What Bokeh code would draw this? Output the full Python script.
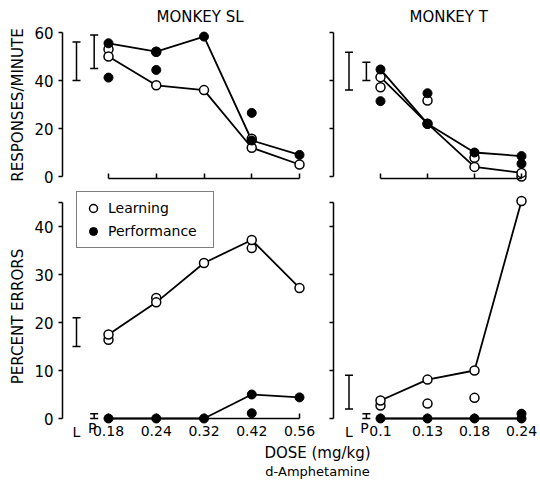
from bokeh.plotting import figure
from bokeh.models import (Range1d, FixedTicker, Whisker, TeeHead, ColumnDataSource,
                          Legend, LegendItem, Title)
from bokeh.layouts import row, column
from bokeh.embed import file_html
from bokeh.resources import INLINE
from bokeh.core.properties import value

FONT = "DejaVu Sans"

# ---------------- data ----------------
SL_DOSES = ["0.18", "0.24", "0.32", "0.42", "0.56"]
T_DOSES = ["0.1", "0.13", "0.18", "0.24"]

# Responses / minute, Monkey SL
sl_rate_learn = [50, 38, 36, 12, 5]
sl_rate_perf = [55.5, 52, 58.3, 15, 9]
sl_rate_learn_extra_dose = ["0.18", "0.24", "0.42"]
sl_rate_learn_extra = [53, 52, 15.7]
sl_rate_perf_extra_dose = ["0.18", "0.24", "0.42"]
sl_rate_perf_extra = [41.2, 44.4, 26.5]
sl_rate_bar_L = [40, 56]
sl_rate_bar_P = [45, 59]

# Responses / minute, Monkey T
t_rate_learn = [41.4, 22, 4, 1.5]
t_rate_perf = [44.6, 22, 10, 8.5]
t_rate_learn_extra_dose = ["0.1", "0.13", "0.18", "0.24"]
t_rate_learn_extra = [37.2, 31.7, 7.8, 0]
t_rate_perf_extra_dose = ["0.1", "0.13", "0.24"]
t_rate_perf_extra = [31.4, 34.7, 5.3]
t_rate_bar_L = [36, 51.8]
t_rate_bar_P = [40, 47.6]

# Percent errors, Monkey SL
sl_err_learn = [17.5, 24.2, 32.4, 37.2, 27.2]
sl_err_perf = [0, 0, 0, 5, 4.4]
sl_err_learn_extra_dose = ["0.18", "0.24", "0.42"]
sl_err_learn_extra = [16.4, 25.1, 35.5]
sl_err_perf_extra_dose = ["0.42"]
sl_err_perf_extra = [1.1]
sl_err_bar_L = [15, 21]
sl_err_bar_P = [0, 1]

# Percent errors, Monkey T
t_err_learn = [3.75, 8.1, 10, 45.3]
t_err_perf = [0, 0, 0, 0]
t_err_learn_extra_dose = ["0.1", "0.13", "0.18"]
t_err_learn_extra = [2.7, 3.1, 4.3]
t_err_perf_extra_dose = ["0.24"]
t_err_perf_extra = [1.0]
t_err_bar_L = [2, 9]
t_err_bar_P = [0, 1]

RATE_TICKS = [0, 20, 40, 60]
ERR_TICKS = [0, 10, 20, 30, 40, 45]
ERR_TICK_LABELS = ["0", "10", "20", "30", "40", ""]

# ---------------- layout constants (pixels) ----------------
L_POS, P_POS = -0.67, -0.30


def panel(doses, cl, ct, w, h, fl, fr, ft, fb, x0, dx, y0, dy,
          yticks, ylabels, ybounds, xaxis_y, show_xlabels,
          ylabel=None, title=None, title_offset=0):
    xr = Range1d((fl - x0) / dx, (fr - x0) / dx)
    yr = Range1d((y0 - fb) / dy, (y0 - ft) / dy)
    p = figure(width=w, height=h, x_range=xr, y_range=yr,
               toolbar_location=None, output_backend="svg",
               min_border_left=fl - cl, min_border_right=cl + w - fr,
               min_border_top=ft - ct, min_border_bottom=ct + h - fb)
    p.grid.visible = False
    p.outline_line_color = None
    p.background_fill_color = "white"
    p.border_fill_color = "white"

    n = len(doses)
    xa = p.xaxis[0]
    xa.ticker = FixedTicker(ticks=list(range(n)))
    xa.bounds = (0, n - 1)
    xa.fixed_location = xaxis_y
    xa.major_tick_in = 5
    xa.major_tick_out = 0
    xa.minor_tick_line_color = None
    xa.axis_line_width = 1.5
    xa.major_tick_line_width = 1.5
    xa.major_label_overrides = {i: (doses[i] if show_xlabels else "") for i in range(n)}
    xa.major_label_text_font = FONT
    xa.major_label_text_font_size = "14px"
    xa.major_label_text_color = "black"
    xa.major_label_standoff = 7

    ya = p.yaxis[0]
    ya.ticker = FixedTicker(ticks=yticks)
    ya.bounds = ybounds
    ya.major_tick_out = 4
    ya.major_tick_in = 0
    ya.minor_tick_line_color = None
    ya.axis_line_width = 1.5
    ya.major_tick_line_width = 1.5
    if ylabels is None:
        ya.major_label_overrides = {t: "" for t in yticks}
        ya.major_label_standoff = 0
    else:
        ya.major_label_overrides = {t: l for t, l in zip(yticks, ylabels)}
        ya.major_label_standoff = 5
    ya.major_label_text_font = FONT
    ya.major_label_text_font_size = "15px"
    ya.major_label_text_color = "black"
    if ylabel:
        ya.axis_label = ylabel
        ya.axis_label_text_font = FONT
        ya.axis_label_text_font_size = "15px"
        ya.axis_label_text_font_style = "normal"
        ya.axis_label_text_color = "black"
        ya.axis_label_standoff = 4
    if title:
        p.title = Title(text=title, align="left", offset=title_offset,
                        text_font=FONT, text_font_size="15px",
                        text_font_style="normal", text_color="black", standoff=4)
    return p


def draw(p, doses, learn, perf, lx_d, lx, px_d, px, bar_L, bar_P):
    xs = list(range(len(doses)))
    p.line(xs, perf, line_color="black", line_width=1.8)
    p.line(xs, learn, line_color="black", line_width=1.8)
    lxi = [doses.index(d) for d in lx_d]
    pxi = [doses.index(d) for d in px_d]
    p.scatter(lxi, lx, marker="circle", size=9, fill_color="white",
              line_color="black", line_width=1.5)
    r_open = p.scatter(xs, learn, marker="circle", size=9, fill_color="white",
                       line_color="black", line_width=1.5)
    p.scatter(pxi, px, marker="circle", size=9, fill_color="black", line_color="black")
    r_fill = p.scatter(xs, perf, marker="circle", size=9, fill_color="black",
                       line_color="black")
    src = ColumnDataSource(dict(x=[L_POS, P_POS], lower=[bar_L[0], bar_P[0]],
                                upper=[bar_L[1], bar_P[1]]))
    wk = Whisker(source=src, base="x", lower="lower", upper="upper", dimension="height",
                 line_color="black", line_width=1.5,
                 upper_head=TeeHead(size=8, line_color="black", line_width=1.5),
                 lower_head=TeeHead(size=8, line_color="black", line_width=1.5))
    p.add_layout(wk)
    return r_open, r_fill


# geometry
SL_G = dict(fl=62, fr=316, x0=108, dx=47.75)
T_G = dict(fl=333, fr=538, x0=380, dx=47.0)
TOP_G = dict(ct=0, h=190, ft=27, fb=182, y0=176, dy=2.4)
BOT_G = dict(ct=190, h=254, ft=191, fb=441, y0=418, dy=4.8)

tl = panel(SL_DOSES, 0, TOP_G["ct"], 322, TOP_G["h"], SL_G["fl"], SL_G["fr"], TOP_G["ft"], TOP_G["fb"],
           SL_G["x0"], SL_G["dx"], TOP_G["y0"], TOP_G["dy"],
           RATE_TICKS, ["0", "20", "40", "60"], (0, 60), -1, False,
           ylabel="RESPONSES/MINUTE", title="MONKEY SL", title_offset=94)
draw(tl, SL_DOSES, sl_rate_learn, sl_rate_perf, sl_rate_learn_extra_dose, sl_rate_learn_extra,
     sl_rate_perf_extra_dose, sl_rate_perf_extra, sl_rate_bar_L, sl_rate_bar_P)

tr = panel(T_DOSES, 322, TOP_G["ct"], 218, TOP_G["h"], T_G["fl"], T_G["fr"], TOP_G["ft"], TOP_G["fb"],
           T_G["x0"], T_G["dx"], TOP_G["y0"], TOP_G["dy"],
           RATE_TICKS, None, (0, 60), -1, False,
           title="MONKEY T", title_offset=76)
draw(tr, T_DOSES, t_rate_learn, t_rate_perf, t_rate_learn_extra_dose, t_rate_learn_extra,
     t_rate_perf_extra_dose, t_rate_perf_extra, t_rate_bar_L, t_rate_bar_P)

bl = panel(SL_DOSES, 0, BOT_G["ct"], 322, BOT_G["h"], SL_G["fl"], SL_G["fr"], BOT_G["ft"], BOT_G["fb"],
           SL_G["x0"], SL_G["dx"], BOT_G["y0"], BOT_G["dy"],
           ERR_TICKS, ERR_TICK_LABELS, (0, 45), 0, True,
           ylabel="PERCENT ERRORS")
r_open, r_fill = draw(bl, SL_DOSES, sl_err_learn, sl_err_perf, sl_err_learn_extra_dose, sl_err_learn_extra,
                      sl_err_perf_extra_dose, sl_err_perf_extra, sl_err_bar_L, sl_err_bar_P)

br = panel(T_DOSES, 322, BOT_G["ct"], 218, BOT_G["h"], T_G["fl"], T_G["fr"], BOT_G["ft"], BOT_G["fb"],
           T_G["x0"], T_G["dx"], BOT_G["y0"], BOT_G["dy"],
           ERR_TICKS, None, (0, 45), 0, True)
draw(br, T_DOSES, t_err_learn, t_err_perf, t_err_learn_extra_dose, t_err_learn_extra,
     t_err_perf_extra_dose, t_err_perf_extra, t_err_bar_L, t_err_bar_P)

for p in (bl, br):
    p.text(x=[L_POS], y=[-2.9], text=["L"], text_font=value(FONT), text_font_size="14px",
           text_align="center", text_baseline="middle", text_color="black")
    p.text(x=[P_POS - 0.04], y=[-2.0], text=["P"], text_font=value(FONT), text_font_size="14px",
           text_align="center", text_baseline="middle", text_color="black")

legend = Legend(items=[LegendItem(label="Learning", renderers=[r_open]),
                       LegendItem(label="Performance", renderers=[r_fill])],
                location=(14, 193), padding=6, spacing=3, glyph_width=20, glyph_height=20,
                label_height=20, label_width=99, label_standoff=5,
                label_text_font=FONT, label_text_font_size="14px", label_text_color="black",
                border_line_color="black", border_line_width=1.5,
                background_fill_color="white", background_fill_alpha=1.0, margin=0)
bl.add_layout(legend)

strip = figure(width=540, height=40, x_range=Range1d(0, 540), y_range=Range1d(0, 40),
               toolbar_location=None, output_backend="svg", min_border=0)
strip.axis.visible = False
strip.grid.visible = False
strip.outline_line_color = None
strip.text(x=[317], y=[32], text=["DOSE (mg/kg)"], text_font=value(FONT), text_font_size="15px",
           text_align="center", text_baseline="middle", text_color="black")
strip.text(x=[317], y=[13], text=["d-Amphetamine"], text_font=value(FONT), text_font_size="13px",
           text_align="center", text_baseline="middle", text_color="black")

layout = column(row(tl, tr), row(bl, br), strip)
open("out.html", "w").write(file_html(layout, INLINE))
